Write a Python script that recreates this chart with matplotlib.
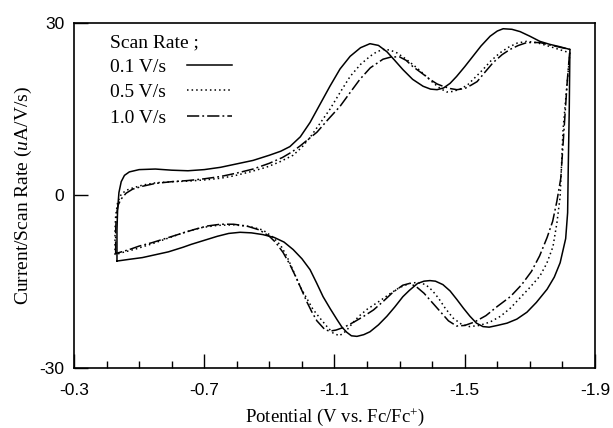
import matplotlib.pyplot as plt
from matplotlib.ticker import MultipleLocator

# cyclic voltammograms: (potential V vs Fc/Fc+, current/scan rate uA/V/s)
# each loop: forward sweep along the top, return sweep along the bottom
loop_01 = [
    (-0.432, -11.4), (-0.432, -6.0), (-0.434, -2.4), (-0.438, 0.5), (-0.445, 2.4),
    (-0.455, 3.5), (-0.47, 4.1), (-0.50, 4.5), (-0.55, 4.6), (-0.60, 4.4),
    (-0.65, 4.3), (-0.70, 4.5), (-0.75, 4.9), (-0.80, 5.5), (-0.85, 6.1),
    (-0.90, 7.0), (-0.935, 7.7), (-0.963, 8.5), (-0.995, 10.2), (-1.025, 12.7),
    (-1.055, 15.8), (-1.086, 19.0), (-1.117, 22.0), (-1.148, 24.2), (-1.18, 25.7),
    (-1.209, 26.4), (-1.235, 26.1), (-1.261, 25.0), (-1.285, 23.5), (-1.31, 21.9),
    (-1.34, 20.2), (-1.372, 19.0), (-1.395, 18.5), (-1.415, 18.4), (-1.435, 18.7),
    (-1.455, 19.5), (-1.475, 20.7), (-1.50, 22.4), (-1.525, 24.2), (-1.55, 26.0),
    (-1.578, 27.7), (-1.60, 28.6), (-1.618, 29.0), (-1.645, 28.9), (-1.67, 28.5),
    (-1.70, 27.7), (-1.731, 26.8), (-1.76, 26.3), (-1.79, 25.9), (-1.823, 25.4),
    (-1.821, 15.0), (-1.818, 5.0), (-1.816, -3.0), (-1.810, -7.5), (-1.793, -11.7),
    (-1.775, -14.2), (-1.753, -16.3), (-1.72, -18.6), (-1.691, -20.3), (-1.66, -21.5),
    (-1.63, -22.2), (-1.60, -22.6), (-1.575, -22.9), (-1.556, -22.8), (-1.536, -22.2),
    (-1.516, -21.0), (-1.496, -19.6), (-1.476, -18.1), (-1.455, -16.6), (-1.433, -15.5),
    (-1.41, -14.9), (-1.393, -14.8), (-1.375, -14.9), (-1.355, -15.3), (-1.33, -16.5),
    (-1.31, -17.6), (-1.285, -19.4), (-1.261, -21.0), (-1.235, -22.5), (-1.209, -23.7),
    (-1.19, -24.2), (-1.169, -24.5), (-1.152, -24.4), (-1.138, -23.8), (-1.123, -22.9),
    (-1.108, -21.6), (-1.087, -19.7), (-1.065, -17.6), (-1.045, -15.2), (-1.025, -12.9),
    (-1.00, -11.0), (-0.973, -9.4), (-0.945, -8.1), (-0.915, -7.3), (-0.88, -6.8),
    (-0.845, -6.5), (-0.81, -6.4), (-0.775, -6.6), (-0.74, -7.1), (-0.70, -7.8),
    (-0.66, -8.5), (-0.635, -9.0), (-0.59, -9.8), (-0.55, -10.3), (-0.51, -10.8),
    (-0.47, -11.1), (-0.445, -11.3), (-0.432, -11.4),
]

loop_05 = [
    (-0.426, -10.3), (-0.426, -6.0), (-0.428, -3.5), (-0.434, -1.2), (-0.445, 0.2),
    (-0.46, 0.9), (-0.48, 1.3), (-0.51, 1.8), (-0.55, 2.2), (-0.60, 2.4),
    (-0.65, 2.5), (-0.70, 2.7), (-0.75, 3.0), (-0.79, 3.4), (-0.84, 4.1),
    (-0.89, 4.9), (-0.93, 5.8), (-0.973, 7.0), (-1.00, 8.4), (-1.025, 10.1),
    (-1.055, 12.5), (-1.086, 15.0), (-1.117, 17.9), (-1.148, 20.7), (-1.18, 22.8),
    (-1.209, 24.2), (-1.23, 25.0), (-1.25, 25.4), (-1.27, 25.3), (-1.292, 24.8),
    (-1.32, 23.7), (-1.353, 22.2), (-1.38, 20.8), (-1.403, 19.6), (-1.425, 18.6),
    (-1.445, 18.0), (-1.465, 18.1), (-1.49, 18.6), (-1.51, 19.3), (-1.535, 20.7),
    (-1.556, 21.9), (-1.58, 23.4), (-1.608, 24.8), (-1.635, 25.8), (-1.661, 26.5),
    (-1.69, 26.8), (-1.72, 26.6), (-1.762, 25.9), (-1.795, 25.3), (-1.823, 24.8),
    (-1.812, 18.0), (-1.802, 11.5), (-1.797, 5.0), (-1.793, -0.2), (-1.783, -4.8),
    (-1.771, -8.9), (-1.752, -11.8), (-1.731, -14.0), (-1.70, -16.0), (-1.67, -17.8),
    (-1.64, -19.6), (-1.61, -21.0), (-1.578, -22.0), (-1.545, -22.6), (-1.515, -22.8),
    (-1.49, -22.4), (-1.464, -21.3), (-1.44, -19.6), (-1.42, -17.9), (-1.40, -16.5),
    (-1.38, -15.5), (-1.355, -15.1), (-1.33, -15.3), (-1.30, -16.0), (-1.27, -17.1),
    (-1.24, -18.3), (-1.20, -19.8), (-1.175, -21.0), (-1.157, -22.1), (-1.135, -23.6),
    (-1.115, -24.4), (-1.095, -23.9), (-1.077, -22.8), (-1.055, -21.3), (-1.034, -19.8),
    (-1.015, -17.9), (-0.994, -15.8), (-0.975, -13.3), (-0.954, -10.6), (-0.935, -8.7),
    (-0.91, -7.2), (-0.88, -6.0), (-0.84, -5.4), (-0.79, -5.1), (-0.74, -5.2),
    (-0.69, -5.6), (-0.64, -6.4), (-0.59, -7.4), (-0.54, -8.4), (-0.49, -9.3),
    (-0.45, -9.9), (-0.426, -10.3),
]

loop_10 = [
    (-0.428, -10.1), (-0.428, -6.0), (-0.43, -3.5), (-0.436, -1.6), (-0.445, -0.6),
    (-0.46, 0.4), (-0.48, 1.1), (-0.51, 1.6), (-0.55, 2.1), (-0.60, 2.4),
    (-0.65, 2.6), (-0.70, 2.9), (-0.75, 3.3), (-0.80, 3.9), (-0.85, 4.6),
    (-0.90, 5.6), (-0.94, 6.6), (-0.97, 7.6), (-0.994, 8.6), (-1.02, 9.8),
    (-1.046, 11.0), (-1.08, 13.2), (-1.117, 15.5), (-1.148, 17.9), (-1.178, 20.2),
    (-1.21, 22.2), (-1.249, 23.7), (-1.275, 24.1), (-1.30, 24.1), (-1.32, 23.5),
    (-1.341, 22.4), (-1.37, 21.2), (-1.393, 20.2), (-1.415, 19.4), (-1.433, 19.0),
    (-1.455, 18.6), (-1.476, 18.4), (-1.50, 18.6), (-1.52, 19.2), (-1.538, 19.8),
    (-1.56, 21.3), (-1.587, 23.1), (-1.615, 24.5), (-1.639, 25.4), (-1.665, 26.1),
    (-1.691, 26.6), (-1.731, 26.6), (-1.76, 26.2), (-1.783, 25.9), (-1.823, 25.4),
    (-1.815, 20.0), (-1.805, 11.5), (-1.795, 3.0), (-1.783, -1.0), (-1.77, -4.5),
    (-1.753, -7.3), (-1.73, -10.5), (-1.705, -13.2), (-1.675, -15.5), (-1.64, -17.6),
    (-1.60, -19.3), (-1.565, -20.9), (-1.53, -22.0), (-1.50, -22.6), (-1.475, -22.7),
    (-1.45, -21.8), (-1.425, -20.2), (-1.40, -18.6), (-1.375, -17.0), (-1.35, -15.8),
    (-1.33, -15.3), (-1.31, -15.6), (-1.28, -16.8), (-1.25, -18.4), (-1.22, -19.9),
    (-1.19, -21.0), (-1.16, -22.0), (-1.13, -22.9), (-1.105, -23.4), (-1.085, -23.6),
    (-1.07, -23.3), (-1.046, -21.8), (-1.03, -20.2), (-1.016, -18.6), (-0.985, -14.6),
    (-0.963, -12.0), (-0.942, -9.9), (-0.92, -8.2), (-0.90, -7.1), (-0.87, -6.0),
    (-0.83, -5.3), (-0.79, -5.0), (-0.75, -5.0), (-0.71, -5.3), (-0.67, -5.9),
    (-0.63, -6.6), (-0.585, -7.4), (-0.54, -8.2), (-0.50, -8.8), (-0.47, -9.4),
    (-0.44, -9.9), (-0.428, -10.1),
]

labels = ["0.1 V/s", "0.5 V/s", "1.0 V/s"]
styles = ["-", (0, (1, 2)), (0, (8, 2, 1.2, 2))]
xticks = [-0.3, -0.7, -1.1, -1.5, -1.9]
yticks = [-30, 0, 30]

plt.rcParams['font.family'] = 'Liberation Sans'
plt.rcParams['axes.unicode_minus'] = False
plt.rcParams['mathtext.fontset'] = 'custom'
plt.rcParams['mathtext.rm'] = 'Liberation Serif'
plt.rcParams['mathtext.it'] = 'Liberation Serif:italic'

fig = plt.figure(figsize=(6.13, 4.28), dpi=100)
ax = fig.add_axes([0.1207, 0.1402, 0.8499, 0.8061])

for loop, lab, ls in zip([loop_01, loop_05, loop_10], labels, styles):
    v = [p[0] for p in loop]
    i = [p[1] for p in loop]
    ax.plot(v, i, color='black', linestyle=ls, linewidth=1.1, label=lab)

ax.set_xlim(-0.3, -1.9)
ax.set_ylim(-30, 30)
ax.set_xticks(xticks)
ax.set_xticklabels([f"{t:.1f}" for t in xticks])
ax.set_yticks(yticks)
ax.xaxis.set_minor_locator(MultipleLocator(0.1))
ax.tick_params(which='major', direction='in', length=10, width=1, labelsize=12.5, pad=7)
ax.tick_params(axis='x', which='major', pad=11)
ax.tick_params(which='minor', direction='in', length=5, width=1)
for s in ax.spines.values():
    s.set_linewidth(1.2)

ax.set_xlabel('Potential (V vs. Fc/Fc$^{+}$)', fontfamily='Liberation Serif', fontsize=13.5, labelpad=6)
ax.set_ylabel('Current/Scan Rate ($\\it{u}$A/V/s)', fontfamily='Liberation Serif', fontsize=14, labelpad=4)

ax.text(0.069, 0.942, 'Scan Rate ;', transform=ax.transAxes, va='center', ha='left',
        fontfamily='Liberation Serif', fontsize=14)
ax.legend(loc='upper left', bbox_to_anchor=(0.050, 0.927),
          frameon=False, markerfirst=False, borderpad=0,
          handlelength=2.3, handletextpad=1.1, labelspacing=0.42,
          prop={'family': 'Liberation Serif', 'size': 14})

fig.savefig('out.png', dpi=100)
